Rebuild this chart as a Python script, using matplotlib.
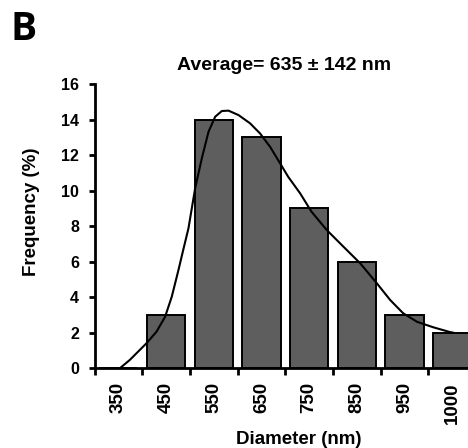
import matplotlib
matplotlib.use("Agg")
import matplotlib.pyplot as plt
import numpy as np

# Data
categories = ["350", "450", "550", "650", "750", "850", "950", "1000"]
frequency = [0, 3, 14, 13, 9, 6, 3, 2]

# Fitted curve (x in category-index units, y in %)
curve_x = [0.03, 0.24, 0.59, 0.80, 0.98, 1.12, 1.26, 1.36, 1.47, 1.61, 1.75,
           1.89, 2.03, 2.17, 2.31, 2.52, 2.76, 2.97, 3.18, 3.39, 3.56, 3.81,
           4.05, 4.37, 4.72, 5.07, 5.42, 5.70, 5.97, 6.26, 6.60, 6.95, 7.03]
curve_y = [0.0, 0.47, 1.41, 2.06, 2.90, 4.03, 5.53, 6.66, 7.88, 10.13, 11.82,
           13.31, 14.16, 14.48, 14.50, 14.25, 13.79, 13.22, 12.47, 11.54, 10.78,
           9.85, 8.81, 7.78, 6.84, 5.91, 4.78, 3.84, 3.10, 2.62, 2.31, 2.04, 2.0]

yticks = [0, 2, 4, 6, 8, 10, 12, 14, 16]

plt.rcParams['font.family'] = ['Liberation Sans', 'DejaVu Sans']

fig = plt.figure(figsize=(4.68, 4.48), dpi=100)
W, H = 468, 448
left_px, right_px = 94.5, 476.1
bottom_px, top_px = 368.3, 84.0
ax = fig.add_axes([left_px / W, (H - bottom_px) / H,
                   (right_px - left_px) / W, (bottom_px - top_px) / H])

x = np.arange(len(categories))
ax.bar(x, frequency, width=0.8, color="#5e5e5e", edgecolor="black",
       linewidth=1.4, zorder=2)
ax.plot(curve_x, curve_y, color="black", linewidth=1.5, zorder=3,
        solid_capstyle="round", solid_joinstyle="round")

ax.set_xlim(-0.5, len(categories) - 0.5)
ax.set_ylim(0, 16)

for s in ["top", "right"]:
    ax.spines[s].set_visible(False)
for s in ["left", "bottom"]:
    ax.spines[s].set_linewidth(2.0)
ax.spines["left"].set_bounds(0, 16)

ax.set_yticks(yticks)
ax.set_yticklabels([str(v) for v in yticks], fontsize=11.5, fontweight="bold")
ax.tick_params(axis="y", length=4, width=2, pad=7)

ax.set_xticks(np.arange(-0.5, len(categories) - 0.5, 1.0))
ax.set_xticklabels([])
ax.tick_params(axis="x", which="major", length=5, width=2)
ax.set_xticks(x, minor=True)
ax.set_xticklabels(categories, minor=True, rotation=90, fontsize=13.5,
                   fontweight="bold", va="top", ha="center")
ax.tick_params(axis="x", which="minor", length=0, pad=10)

fig.text(284 / W, 1 - 66 / H, "Average= 635 \u00b1 142 nm", ha="center",
         va="center", fontsize=14, fontweight="bold")
fig.text(299 / W, 1 - 439 / H, "Diameter (nm)", ha="center", va="center",
         fontsize=13.5, fontweight="bold")
fig.text(31 / W, 1 - 211.7 / H, "Frequency (%)", ha="center", va="center",
         rotation=90, fontsize=13.5, fontweight="bold")
fig.text(10 / W, 1 - 29 / H, "B", ha="left", va="center", fontsize=28,
         fontweight="bold", family=["Open Sans", "DejaVu Sans"])

fig.savefig("out.png", dpi=100)
